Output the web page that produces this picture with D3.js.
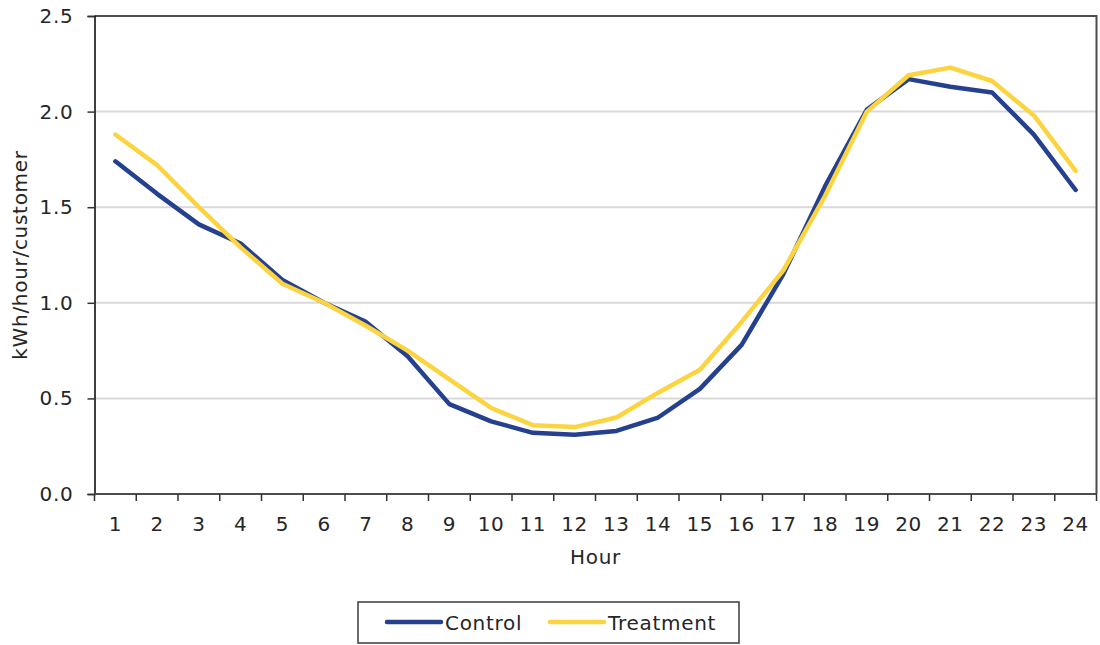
<!DOCTYPE html>
<html>
<head>
<meta charset="utf-8">
<script src="https://cdn.jsdelivr.net/npm/d3@7"></script>
<style>
  html, body { margin: 0; padding: 0; background: #fff; }
  svg { display: block; font-family: "DejaVu Sans", Verdana, sans-serif; }
  text { letter-spacing: 0.7px; fill: #262626; }
</style>
</head>
<body>
<svg id="chart" width="1100" height="645"></svg>
<script>
// Hourly load profile, kWh per hour per customer
const hours = ["1","2","3","4","5","6","7","8","9","10","11","12","13","14","15","16","17","18","19","20","21","22","23","24"];
const control = [1.74,1.57,1.41,1.31,1.12,1.00,0.90,0.72,0.47,0.38,0.32,0.31,0.33,0.40,0.55,0.78,1.15,1.61,2.01,2.17,2.13,2.10,1.88,1.59];
const treatment = [1.88,1.72,1.50,1.29,1.10,1.00,0.88,0.75,0.60,0.45,0.36,0.35,0.40,0.53,0.65,0.90,1.17,1.56,2.00,2.19,2.23,2.16,1.98,1.69];
const yTicks = [0, 0.5, 1.0, 1.5, 2.0, 2.5];
const seriesNames = ["Control", "Treatment"];
const seriesColors = ["#24408e", "#fcd440"];

const svg = d3.select("#chart");
const plotLeft = 94.5, plotRight = 1096.5, plotTop = 16, plotBottom = 494;

const x = d3.scaleBand().domain(hours).range([plotLeft, plotRight]).padding(0);
const y = d3.scaleLinear().domain([0, 2.5]).range([plotBottom, plotTop]);

// horizontal gridlines
svg.append("g")
  .selectAll("line")
  .data(yTicks.filter(d => d > 0 && d < 2.5))
  .join("line")
  .attr("x1", plotLeft).attr("x2", plotRight)
  .attr("y1", d => y(d)).attr("y2", d => y(d))
  .attr("stroke", "#d9d9d9").attr("stroke-width", 2);

// top and right frame
svg.append("path")
  .attr("d", `M${plotLeft},${plotTop}H${plotRight}V${plotBottom}`)
  .attr("fill", "none").attr("stroke", "#4d4d4d").attr("stroke-width", 2);

// y axis
const yAxis = svg.append("g")
  .attr("transform", `translate(${plotLeft},0)`)
  .call(d3.axisLeft(y).tickValues(yTicks).tickFormat(d3.format(".1f")).tickSize(7).tickPadding(14));
yAxis.select(".domain").attr("stroke", "#111").attr("stroke-width", 1.6);
yAxis.selectAll(".tick line").attr("stroke", "#333").attr("stroke-width", 1.5);
yAxis.selectAll(".tick text").attr("font-size", 20).style("font-family", "DejaVu Sans, sans-serif").attr("fill", "#262626");

// x axis: ticks sit on category boundaries
const boundaries = hours.map(h => x(h)).concat([plotRight]);
const xAxisG = svg.append("g");
xAxisG.append("line")
  .attr("x1", plotLeft).attr("x2", plotRight).attr("y1", plotBottom).attr("y2", plotBottom)
  .attr("stroke", "#4d4d4d").attr("stroke-width", 2);
xAxisG.selectAll("line.tk")
  .data(boundaries)
  .join("line")
  .attr("class", "tk")
  .attr("x1", d => d).attr("x2", d => d)
  .attr("y1", plotBottom).attr("y2", plotBottom + 7)
  .attr("stroke", "#333").attr("stroke-width", 1.5);
xAxisG.selectAll("text")
  .data(hours)
  .join("text")
  .attr("x", d => x(d) + x.bandwidth() / 2)
  .attr("y", 531)
  .attr("text-anchor", "middle")
  .attr("font-size", 20)
  .text(d => d);

// axis titles
svg.append("text")
  .attr("x", (plotLeft + plotRight) / 2).attr("y", 564)
  .attr("text-anchor", "middle").attr("font-size", 20)
  .text("Hour");
svg.append("text")
  .attr("transform", `translate(27,255) rotate(-90)`)
  .attr("text-anchor", "middle").attr("font-size", 20)
  .text("kWh/hour/customer");

// series lines
const line = d3.line()
  .x((d, i) => x(hours[i]) + x.bandwidth() / 2)
  .y(d => y(d));
[control, treatment].forEach((vals, k) => {
  svg.append("path")
    .datum(vals)
    .attr("d", line)
    .attr("fill", "none")
    .attr("stroke", seriesColors[k])
    .attr("stroke-width", 4.5)
    .attr("stroke-linejoin", "round")
    .attr("stroke-linecap", "round");
});

// legend
const lg = svg.append("g");
lg.append("rect")
  .attr("x", 358).attr("y", 602).attr("width", 381).attr("height", 41)
  .attr("fill", "#fff").attr("stroke", "#3a3a3a").attr("stroke-width", 1.5);
const legendX = [387, 550];
seriesNames.forEach((name, k) => {
  lg.append("line")
    .attr("x1", legendX[k]).attr("x2", legendX[k] + 54)
    .attr("y1", 622).attr("y2", 622)
    .attr("stroke", seriesColors[k]).attr("stroke-width", 4.5)
    .attr("stroke-linecap", "round");
  lg.append("text")
    .attr("x", legendX[k] + 58).attr("y", 629.5)
    .attr("font-size", 20)
    .text(name);
});
</script>
</body>
</html>
